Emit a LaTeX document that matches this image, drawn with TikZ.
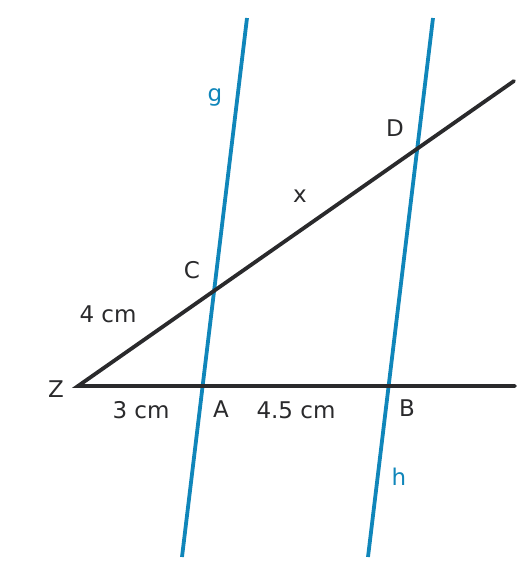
\documentclass[tikz,border=0pt]{standalone}
\usepackage{fontspec}
\setmainfont{DejaVu Sans}
\definecolor{pblue}{RGB}{16,134,186}
\definecolor{pdark}{RGB}{42,42,44}
\begin{document}
\begin{tikzpicture}[x=1pt,y=-1pt,
  parline/.style={draw=pblue,line width=3.8pt},
  mainline/.style={draw=pdark,line width=3.8pt},
  lbl/.style={font=\fontsize{23}{26}\selectfont,text=pdark,inner sep=0pt},
  blbl/.style={font=\fontsize{23}{26}\selectfont,text=pblue,inner sep=0pt}]
\useasboundingbox (0,0) rectangle (532,576);
\coordinate (g1) at (247,18);
\coordinate (g2) at (182,557);
\coordinate (h1) at (433,18);
\coordinate (h2) at (368,557);
\coordinate (Zp) at (78,386);
\coordinate (hE) at (515,386);
\coordinate (sE) at (514,81);
\draw[parline] (g1) -- (g2);
\draw[parline] (h1) -- (h2);
\draw[mainline,line cap=round] (hE) -- (Zp) -- (sE);
\node[blbl] (lg) at (215,97) {g};
\node[blbl] (lh) at (399,477) {h};
\node[lbl] (lD) at (395,128) {D};
\node[lbl] (lx) at (300,196) {x};
\node[lbl] (lC) at (192,270) {C};
\node[lbl] (l4) at (108,314) {4 cm};
\node[lbl] (lZ) at (56,389) {Z};
\node[lbl] (l3) at (141,410) {3 cm};
\node[lbl] (lA) at (221,409) {A};
\node[lbl] (l45) at (296,410) {4.5 cm};
\node[lbl] (lB) at (407,408) {B};
\end{tikzpicture}
\end{document}
